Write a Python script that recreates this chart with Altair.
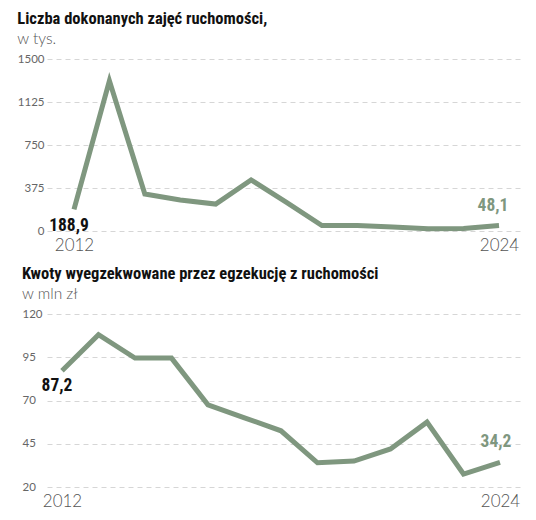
import altair as alt
import pandas as pd

years = list(range(2012, 2025))

# Liczba dokonanych zajęć ruchomości, w tys.
zajecia = [188.9, 1310, 322, 270, 235, 445, 250, 48, 48, 35, 20, 22, 48.1]
# Kwoty wyegzekwowane przez egzekucję z ruchomości, w mln zł
kwoty = [87.2, 108, 94.5, 94.5, 67.5, 60, 52.5, 34, 35, 42, 57.5, 27.5, 34.2]

top_ticks = [0, 375, 750, 1125, 1500]
bottom_ticks = [20, 45, 70, 95, 120]

GREEN = "#7f977f"
COND = "'Roboto Condensed', 'DejaVu Sans Condensed', 'Liberation Sans Narrow', sans-serif"
LIGHT = "Lato"


def fmt(v):
    return f"{v:.1f}".replace(".", ",")


def panel(values, title, subtitle, x_domain, y_ticks, height, y_axis_kw, first_pos, last_pos):
    df = pd.DataFrame({"year": years, "value": values,
                       "label": [fmt(v) for v in values]})
    x = alt.X("year:Q", scale=alt.Scale(domain=x_domain, nice=False, zero=False),
              axis=alt.Axis(values=[2012, 2024], format="d", title=None, domain=False,
                            ticks=False, grid=False, labelFontSize=17, labelColor="#555",
                            labelFont=LIGHT, labelFontWeight=300, labelPadding=6,
                            labelFlush=False))
    y = alt.Y("value:Q", scale=alt.Scale(domain=[y_ticks[0], y_ticks[-1]], nice=False, zero=False),
              axis=alt.Axis(values=y_ticks, format="d", title=None, domain=False, ticks=False,
                            gridDash=[5, 4], gridColor="#d6d6d6", labelFontSize=11.5,
                            labelColor="#666", labelFont=LIGHT, **y_axis_kw))
    base = alt.Chart(df).encode(x=x, y=y)
    line = base.mark_line(color=GREEN, strokeWidth=5, strokeJoin="miter", strokeCap="butt")
    first = base.transform_filter(alt.datum.year == 2012).mark_text(
        font=COND, fontSize=17.5, fontWeight="bold", color="#111", **first_pos
    ).encode(text="label:N")
    last = base.transform_filter(alt.datum.year == 2024).mark_text(
        font=COND, fontSize=17.5, fontWeight="bold", color=GREEN, **last_pos
    ).encode(text="label:N")
    return alt.layer(line, first, last).properties(
        width=475, height=height,
        title=alt.Title(title, subtitle=subtitle, anchor="start", frame="bounds",
                        font=COND, fontSize=16.5, fontWeight="bold", color="#111",
                        subtitleFont=LIGHT, subtitleFontSize=15.5, subtitleColor="#555",
                        subtitleFontWeight=300, subtitlePadding=4, offset=6),
    )


top = panel(zajecia, "Liczba dokonanych zajęć ruchomości,", "w tys.",
            [2011.238, 2024.649], top_ticks, 172, dict(labelPadding=3),
            dict(dx=-5, dy=17), dict(dx=-6, dy=-19))

bottom = panel(kwoty, "Kwoty wyegzekwowane przez egzekucję z ruchomości", "w mln zł",
               [2011.589, 2024.603], bottom_ticks, 173,
               dict(labelPadding=25, labelAlign="left"),
               dict(dx=-5, dy=15), dict(dx=-4, dy=-20))

chart = alt.vconcat(top, bottom, spacing=13).properties(
    padding={"left": 9, "top": 3, "right": 5, "bottom": 5},
    background="white",
).configure_view(stroke=None)

chart.save("out.html", embed_options={"renderer": "svg", "actions": False})
